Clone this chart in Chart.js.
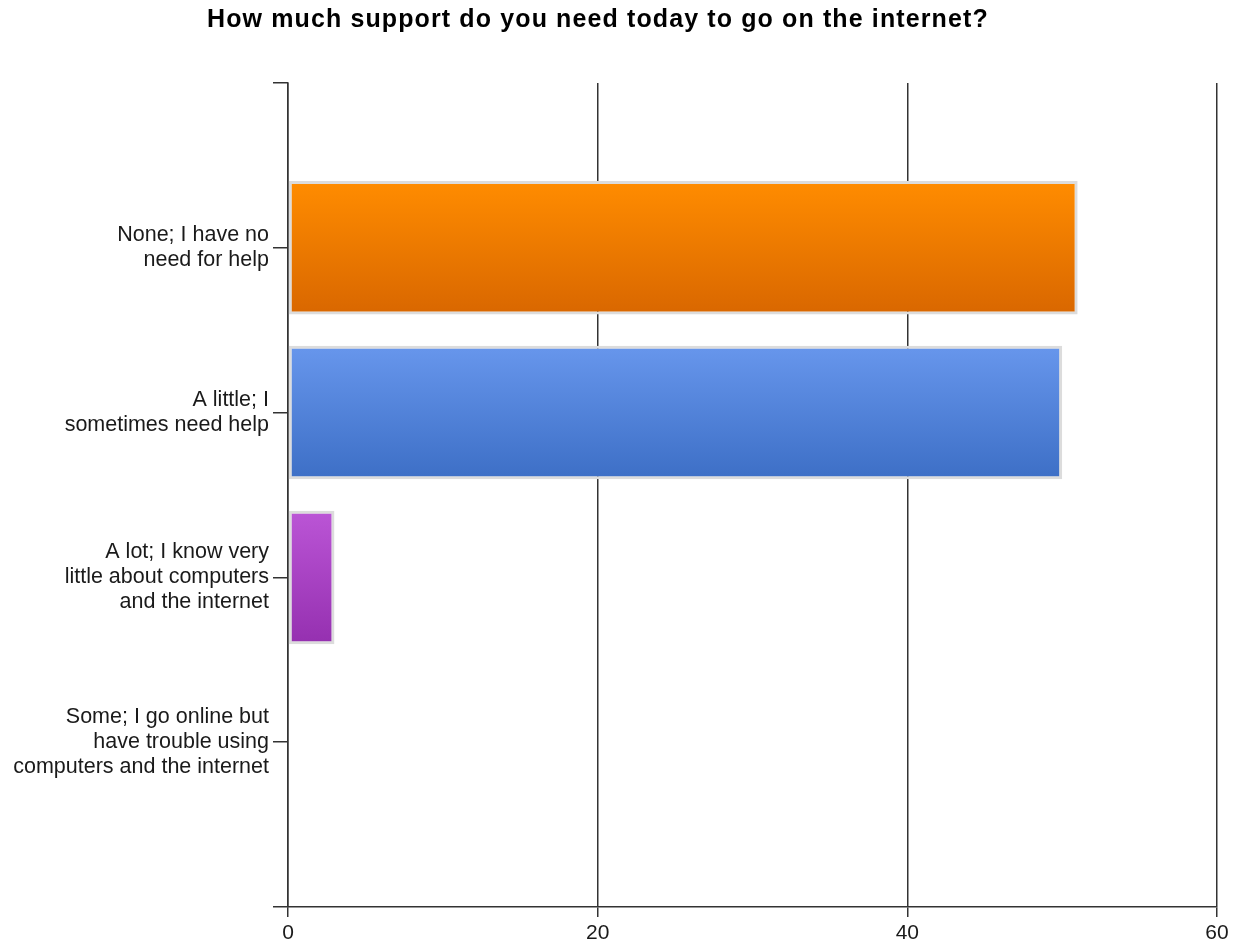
<!DOCTYPE html>
<html>
<head>
<meta charset="utf-8">
<script src="https://cdn.jsdelivr.net/npm/chart.js@4.4.1/dist/chart.umd.min.js"></script>
<style>
  html, body { margin: 0; padding: 0; background: #fff; }
  #wrap { width: 1242px; height: 946px; position: relative; }
</style>
</head>
<body>
<div id="wrap"><canvas id="myChart"></canvas></div>
<script>
var chartTitle = 'How much support do you need today to go on the internet?';

var categories = [
    ['None; I have no', 'need for help'],
    ['A little; I', 'sometimes need help'],
    ['A lot; I know very', 'little about computers', 'and the internet'],
    ['Some; I go online but', 'have trouble using', 'computers and the internet']
];
var counts = [51, 50, 3, 0];
var xTicks = [0, 20, 40, 60];

var topColors = ['#ff8c00', '#6796ec', '#bb55d6', '#bbbbbb'];
var bottomColors = ['#d96700', '#3d6fc6', '#9530b0', '#999999'];

// empty slot at top and bottom so bars sit on the inner ticks
var labels = [''].concat(categories, ['']);
var values = [null].concat(counts, [null]);

var fontFamily = '"Liberation Sans", Arial, sans-serif';

function barColor(context) {
    var i = context.dataIndex - 1;
    var chart = context.chart;
    if (i < 0 || i >= counts.length) return '#ffffff';
    if (!chart.chartArea) return topColors[i];
    var y = chart.scales.y.getPixelForValue(context.dataIndex);
    var g = chart.ctx.createLinearGradient(0, y - 66, 0, y + 66);
    g.addColorStop(0, topColors[i]);
    g.addColorStop(1, bottomColors[i]);
    return g;
}

var titlePlugin = {
    id: 'plainTitle',
    afterDraw: function (chart) {
        var ctx = chart.ctx;
        ctx.save();
        ctx.font = 'bold 25px ' + fontFamily;
        ctx.letterSpacing = '1.12px';
        ctx.fillStyle = '#000';
        ctx.textAlign = 'left';
        ctx.textBaseline = 'alphabetic';
        ctx.fillText(chartTitle, 207, 27);
        ctx.restore();
    }
};

function createChart() {
    var ctx = document.getElementById('myChart').getContext('2d');
    new Chart(ctx, {
        type: 'bar',
        data: {
            labels: labels,
            datasets: [{
                data: values,
                backgroundColor: barColor,
                borderColor: '#dcdcdc',
                borderWidth: 3,
                borderSkipped: false,
                barPercentage: 0.81,
                categoryPercentage: 1
            }]
        },
        options: {
            indexAxis: 'y',
            responsive: true,
            maintainAspectRatio: false,
            animation: false,
            layout: { padding: { top: 83, right: 25, left: 0, bottom: -4 } },
            plugins: {
                legend: { display: false },
                tooltip: { enabled: false },
                title: { display: false }
            },
            scales: {
                x: {
                    type: 'linear',
                    min: 0,
                    max: 60,
                    afterBuildTicks: function (scale) {
                        scale.ticks = xTicks.map(function (v) { return { value: v }; });
                    },
                    grid: { color: '#333', lineWidth: 1.5, tickLength: 10 },
                    border: { display: true, color: '#333', width: 1.5 },
                    ticks: {
                        color: '#1a1a1a',
                        padding: 6,
                        font: { family: fontFamily, size: 21, lineHeight: 1.0 }
                    }
                },
                y: {
                    type: 'category',
                    offset: false,
                    afterFit: function (scale) { scale.width = 288; },
                    grid: { offset: false, drawOnChartArea: false, color: '#333', lineWidth: 1.5, tickLength: 15 },
                    border: { display: true, color: '#333', width: 1.5 },
                    ticks: {
                        color: '#1a1a1a',
                        padding: 4,
                        autoSkip: false,
                        font: { family: fontFamily, size: 21.5, lineHeight: 1.16 }
                    }
                }
            }
        },
        plugins: [titlePlugin]
    });
}

createChart();
</script>
</body>
</html>
